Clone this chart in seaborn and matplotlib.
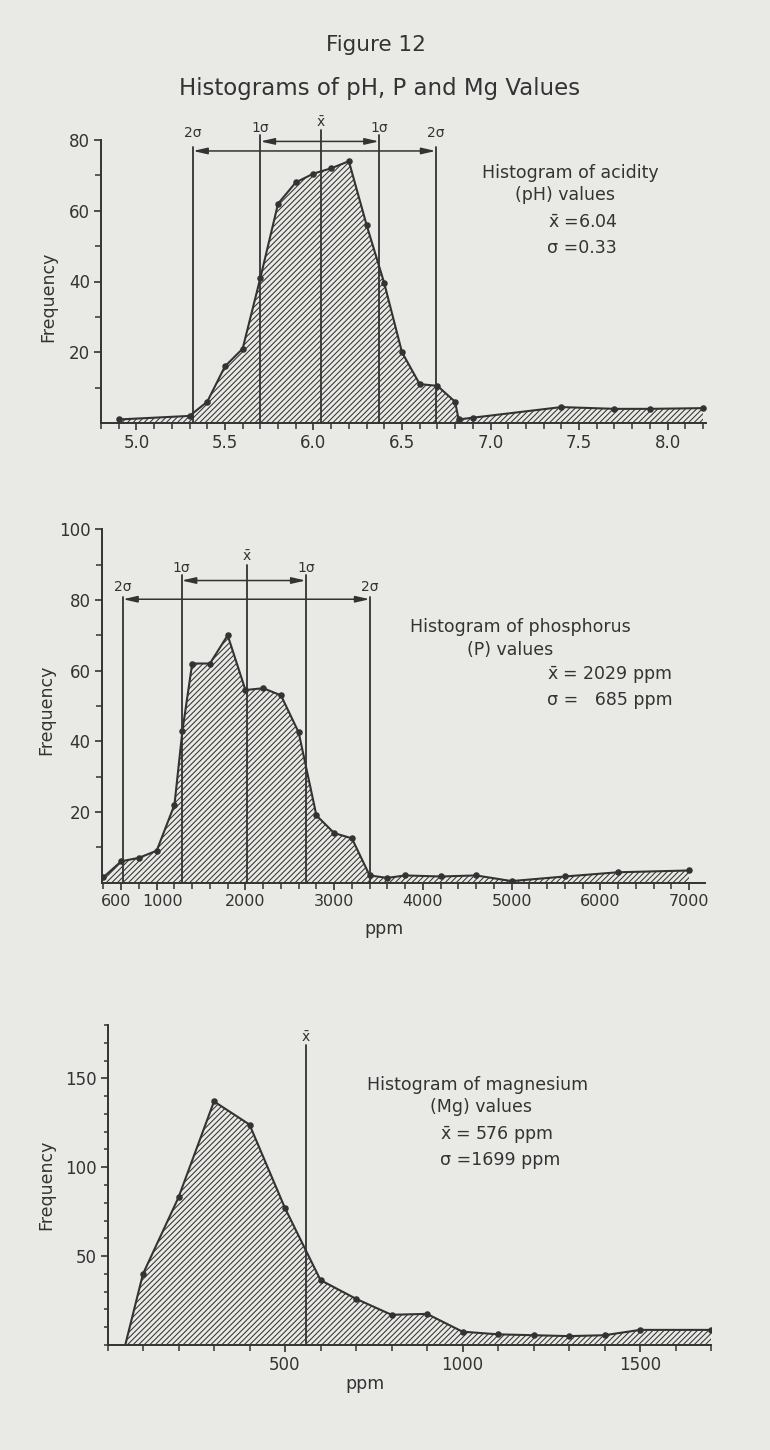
import numpy as np
import pandas as pd
import matplotlib
matplotlib.use("Agg")
import matplotlib.pyplot as plt
import matplotlib.transforms as mtransforms
from matplotlib.ticker import MultipleLocator, FixedLocator
import seaborn as sns

# ---------------- data ----------------
# pH histogram (frequency polygon)
ph_values = [4.9, 5.3, 5.4, 5.5, 5.6, 5.7, 5.8, 5.9, 6.0, 6.1, 6.2, 6.3, 6.4,
             6.5, 6.6, 6.7, 6.8, 6.82, 6.9, 7.4, 7.7, 7.9, 8.2]
ph_freq = [1, 2, 6, 16, 21, 41, 62, 68, 70.5, 72, 74, 56, 39.5,
           20, 11, 10.5, 6, 1, 1.5, 4.5, 4, 4, 4.2]
ph_stat_pos = [5.32, 5.70, 6.04, 6.37, 6.69]          # 2σ, 1σ, mean, 1σ, 2σ as drawn
ph_ticks = [5.0, 5.5, 6.0, 6.5, 7.0, 7.5, 8.0]
ph_ticklabels = ["5.0", "5.5", "6.0", "6.5", "7.0", "7.5", "8.0"]

# Phosphorus histogram
p_values = [400, 600, 800, 1000, 1200, 1290, 1400, 1600, 1800, 2000, 2200, 2400,
            2600, 2800, 3000, 3200, 3400, 3600, 3800, 4200, 4600, 5000, 5600,
            6200, 7000]
p_freq = [1.5, 6, 7, 9, 22, 43, 62, 62, 70, 54.5, 55, 53,
          42.5, 19, 14, 12.5, 2, 1.3, 2, 1.7, 2, 0.4, 1.7, 2.9, 3.4]
p_stat_pos = [620, 1280, 2020, 2680, 3400]
p_ticks = [600, 1000, 2000, 3000, 4000, 5000, 6000, 7000]
p_ticklabels = ["600", "1000", "2000", "3000", "4000", "5000", "6000", "7000"]

# Magnesium histogram
mg_values = [50, 100, 200, 300, 400, 500, 600, 700, 800, 900, 1000, 1100,
             1200, 1300, 1400, 1500, 1700]
mg_freq = [0, 40, 83, 137, 124, 77, 36.5, 26, 17, 17.5, 7.5, 6,
           5.5, 5, 5.5, 8.5, 8.5]
mg_mean_pos = 559
mg_ticks = [500, 1000, 1500]
mg_ticklabels = ["500", "1000", "1500"]

stat_labels = ["2σ", "1σ", r"$\bar{\mathrm{x}}$", "1σ", "2σ"]

# ---------------- style ----------------
sns.set_theme(style="ticks")
BG = "#e9e9e6"
INK = "#333333"
plt.rcParams["font.family"] = ["DejaVu Sans"]
plt.rcParams["mathtext.fontset"] = "dejavusans"
plt.rcParams["hatch.color"] = INK
plt.rcParams["hatch.linewidth"] = 0.75
plt.rcParams["axes.edgecolor"] = INK
plt.rcParams["text.color"] = INK

W, H = 770, 1450
fig = plt.figure(figsize=(W / 100, H / 100), dpi=100)
fig.patch.set_facecolor(BG)


def px(x, y):
    return x / W, 1 - y / H


def make_axes(left, right, bottom, top):
    ax = fig.add_axes([left / W, 1 - bottom / H, (right - left) / W, (bottom - top) / H])
    ax.set_facecolor("none")
    sns.despine(ax=ax)
    for s in ("left", "bottom"):
        ax.spines[s].set_linewidth(1.4)
        ax.spines[s].set_color(INK)
    ax.tick_params(which="major", direction="out", length=5, width=1.2, color=INK,
                   labelsize=12, labelcolor=INK, pad=3)
    ax.tick_params(which="minor", direction="out", length=4, width=1.1, color=INK)
    return ax


def polygon(ax, xs, ys):
    df = pd.DataFrame({"value": xs, "freq": ys})
    ax.fill_between(df["value"], 0, df["freq"], facecolor="none", edgecolor=INK,
                    hatch="//////", linewidth=0, zorder=1)
    sns.lineplot(data=df, x="value", y="freq", ax=ax, color=INK, lw=1.5,
                 sort=False, zorder=3)
    sns.scatterplot(data=df[df["freq"] > 0], x="value", y="freq", ax=ax, color=INK,
                    s=22, linewidth=0, zorder=4)
    ax.set_xlabel("")
    ax.set_ylabel("")


def stat_lines(ax, pos, tops, label_y, arrow_y):
    for x, t, ly, lab in zip(pos, tops, label_y, stat_labels):
        ax.plot([x, x], [0, t], color=INK, lw=1.3, clip_on=False, zorder=2)
        ax.text(x, ly, lab, ha="center", va="center", fontsize=10,
                color=INK, clip_on=False)
    ap = dict(arrowstyle="<|-|>,head_length=0.7,head_width=0.16", color=INK,
              lw=1.1, shrinkA=0, shrinkB=0)
    ax.annotate("", xy=(pos[1], arrow_y[0]), xytext=(pos[3], arrow_y[0]),
                arrowprops=ap, annotation_clip=False)
    ax.annotate("", xy=(pos[0], arrow_y[1]), xytext=(pos[4], arrow_y[1]),
                arrowprops=ap, annotation_clip=False)


def nudge_labels(ax, shifts):
    fig.canvas.draw()
    for lab in ax.get_xticklabels():
        dx = shifts.get(lab.get_text(), 0)
        if dx:
            lab.set_transform(lab.get_transform() +
                              mtransforms.ScaledTranslation(dx / 100, 0, fig.dpi_scale_trans))


# ---------------- titles ----------------
fig.text(*px(376, 45), "Figure 12", ha="center", va="center", fontsize=15.5, color=INK)
fig.text(*px(380, 88), "Histograms of pH, P and Mg Values", ha="center", va="center",
         fontsize=16.5, color=INK)

# ---------------- panel 1: pH ----------------
ax1 = make_axes(101, 706.5, 423, 140)
polygon(ax1, ph_values, ph_freq)
ax1.set_xlim(4.8, 8.22)
ax1.set_ylim(0, 80)
ax1.xaxis.set_major_locator(FixedLocator(ph_ticks))
ax1.set_xticklabels(ph_ticklabels)
ax1.xaxis.set_minor_locator(MultipleLocator(0.1))
ax1.set_yticks([20, 40, 60, 80])
ax1.yaxis.set_minor_locator(FixedLocator([10, 30, 50, 70]))
ax1.set_ylabel("Frequency", fontsize=12.5, color=INK)
ax1.yaxis.set_label_coords(-0.073, 0.445)
stat_lines(ax1, ph_stat_pos, [78.1, 81.4, 82.8, 81.4, 78.1],
           [81.9, 83.3, 84.8, 83.3, 81.9], [79.6, 76.9])

for (x, y), s in zip([(482, 173), (515, 195), (548, 223), (547, 248)],
                     ["Histogram of acidity", "(pH) values",
                      r"$\bar{\mathrm{x}}$ =6.04", "σ =0.33"]):
    fig.text(*px(x, y), s, ha="left", va="center", fontsize=12.5, color=INK)

# ---------------- panel 2: P ----------------
ax2 = make_axes(101.7, 705, 882.5, 529.3)
polygon(ax2, p_values, p_freq)
ax2.set_xlim(380, 7180)
ax2.set_ylim(0, 100)
ax2.xaxis.set_major_locator(FixedLocator(p_ticks))
ax2.set_xticklabels(p_ticklabels, fontsize=11.5)
ax2.xaxis.set_minor_locator(FixedLocator(list(range(400, 7001, 200))))
ax2.set_yticks([20, 40, 60, 80, 100])
ax2.yaxis.set_minor_locator(FixedLocator([10, 30, 50, 70, 90]))
ax2.set_ylabel("Frequency", fontsize=12.5, color=INK)
ax2.yaxis.set_label_coords(-0.077, 0.49)
ax2.set_xlabel("ppm", fontsize=12.5, color=INK)
ax2.xaxis.set_label_coords(0.468, -0.106)
stat_lines(ax2, p_stat_pos, [80.8, 87.0, 89.8, 87.0, 80.8],
           [83.6, 89.0, 92.2, 89.0, 83.6], [85.5, 80.2])
nudge_labels(ax2, {"600": -5, "1000": 6})

for (x, y), s in zip([(410, 627), (467, 650), (547, 675), (547, 700)],
                     ["Histogram of phosphorus", "(P) values",
                      r"$\bar{\mathrm{x}}$ = 2029 ppm", "σ =   685 ppm"]):
    fig.text(*px(x, y), s, ha="left", va="center", fontsize=12.5, color=INK)

# ---------------- panel 3: Mg ----------------
ax3 = make_axes(107.5, 711, 1345, 1025)
polygon(ax3, mg_values, mg_freq)
ax3.set_xlim(0, 1700)
ax3.set_ylim(0, 180)
ax3.xaxis.set_major_locator(FixedLocator(mg_ticks))
ax3.set_xticklabels(mg_ticklabels)
ax3.xaxis.set_minor_locator(MultipleLocator(100))
ax3.set_yticks([50, 100, 150])
ax3.yaxis.set_minor_locator(MultipleLocator(10))
ax3.tick_params(axis="y", which="minor", length=3)
ax3.set_ylabel("Frequency", fontsize=12.5, color=INK)
ax3.yaxis.set_label_coords(-0.086, 0.5)
ax3.set_xlabel("ppm", fontsize=12.5, color=INK)
ax3.xaxis.set_label_coords(0.427, -0.094)
ax3.plot([mg_mean_pos, mg_mean_pos], [0, 168.5], color=INK, lw=1.3, clip_on=False, zorder=2)
ax3.text(mg_mean_pos, 168.5, stat_labels[2], ha="center", va="bottom", fontsize=10,
         color=INK, clip_on=False)

for (x, y), s in zip([(367, 1085), (430, 1107), (440, 1135), (440, 1160)],
                     ["Histogram of magnesium", "(Mg) values",
                      r"$\bar{\mathrm{x}}$ = 576 ppm", "σ =1699 ppm"]):
    fig.text(*px(x, y), s, ha="left", va="center", fontsize=12.5, color=INK)

fig.savefig("out.png", dpi=100, facecolor=BG)
